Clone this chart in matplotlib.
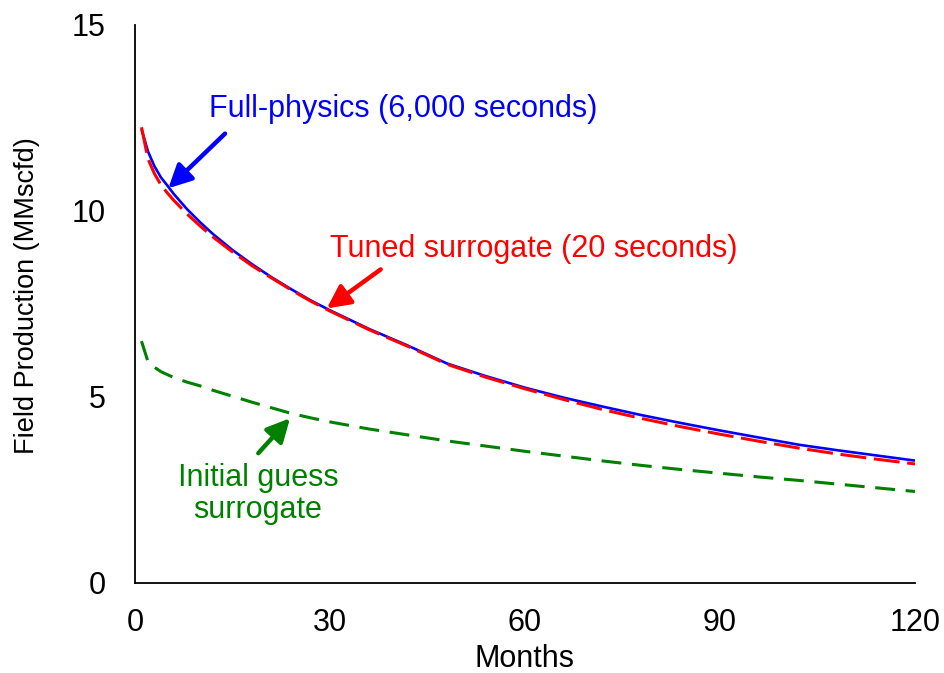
import matplotlib
matplotlib.use("Agg")
import matplotlib.pyplot as plt

plt.rcParams['font.family'] = ['Liberation Sans', 'DejaVu Sans']

months = [1, 2, 3, 4, 5, 6, 8, 10, 12, 15, 18, 21, 24, 27, 30, 36, 42, 48, 54, 60,
          66, 72, 78, 84, 90, 96, 102, 108, 114, 120]
full_physics = [12.2, 11.6, 11.2, 10.9, 10.68, 10.45, 10.05, 9.7, 9.38, 8.95, 8.57, 8.22,
                7.9, 7.6, 7.33, 6.83, 6.38, 5.9, 5.56, 5.25, 4.98, 4.74, 4.51, 4.3,
                4.1, 3.91, 3.72, 3.57, 3.43, 3.29]
tuned = [12.25, 11.4, 11.0, 10.7, 10.48, 10.28, 9.92, 9.6, 9.3, 8.9, 8.53, 8.2,
         7.88, 7.58, 7.31, 6.81, 6.36, 5.88, 5.53, 5.22, 4.93, 4.66, 4.42, 4.2,
         4.0, 3.81, 3.63, 3.47, 3.33, 3.2]
initial = [6.5, 5.95, 5.8, 5.68, 5.6, 5.52, 5.4, 5.3, 5.18, 5.02, 4.86, 4.71,
           4.56, 4.44, 4.33, 4.14, 3.98, 3.82, 3.68, 3.54, 3.41, 3.28, 3.16, 3.05,
           2.95, 2.85, 2.76, 2.66, 2.56, 2.46]

BLUE = '#0000FF'
RED = '#FF0000'
GREEN = '#008000'
FS = 22

fig = plt.figure(figsize=(9.45, 6.73), dpi=100)
ax = fig.add_axes([135/945, 1-583/673, 780/945, 558/673])

ax.plot(months, full_physics, color=BLUE, lw=1.9, solid_capstyle='butt')
ax.plot(months, tuned, color=RED, lw=2.2, dashes=(8.5, 2.5))
ax.plot(months, initial, color=GREEN, lw=2.2, dashes=(6.5, 3.5))

ax.set_xlim(0, 120)
ax.set_ylim(0, 15)
ax.set_xticks([0, 30, 60, 90, 120])
ax.set_yticks([0, 5, 10, 15])
ax.spines['top'].set_visible(False)
ax.spines['right'].set_visible(False)
for s in ('left', 'bottom'):
    ax.spines[s].set_linewidth(1.3)
ax.tick_params(axis='both', length=0, labelsize=FS)
ax.tick_params(axis='x', pad=18)
ax.tick_params(axis='y', pad=21)
ax.set_xlabel('Months', fontsize=FS)
ax.set_ylabel('Field Production (MMscfd)', fontsize=19.5)
ax.xaxis.set_label_coords(0.5, -0.110)
ax.yaxis.set_label_coords(-0.122, 0.515)

ax.text(41.3, 12.54, 'Full-physics (6,000 seconds)', color=BLUE, fontsize=FS,
        ha='center', va='baseline')
ax.text(61.3, 8.77, 'Tuned surrogate (20 seconds)', color=RED, fontsize=FS,
        ha='center', va='baseline')
ax.text(18.9, 2.61, 'Initial guess', color=GREEN, fontsize=FS, ha='center', va='baseline')
ax.text(18.9, 1.75, 'surrogate', color=GREEN, fontsize=FS, ha='center', va='baseline')

def arrow(tail, tip, color):
    ax.annotate('', xy=tip, xytext=tail,
                arrowprops=dict(arrowstyle='-|>,head_length=0.7,head_width=0.35',
                                lw=3.2, color=color, shrinkA=0, shrinkB=0,
                                mutation_scale=20))

arrow((13.85, 12.08), (5.12, 10.61), BLUE)
arrow((37.8, 8.43), (29.5, 7.38), RED)
arrow((18.97, 3.49), (23.85, 4.43), GREEN)

fig.savefig('out.png', dpi=100)
